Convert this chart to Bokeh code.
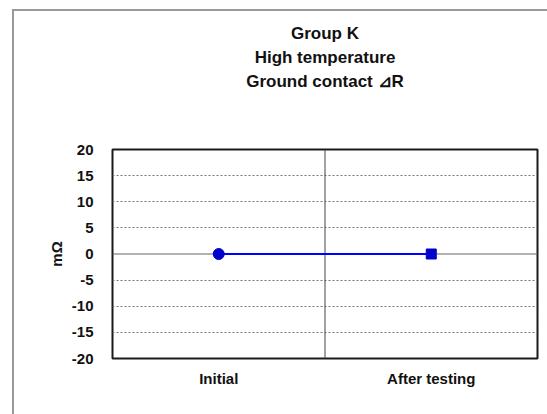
from bokeh.plotting import figure
from bokeh.models import FixedTicker, Span, Title
from bokeh.embed import file_html
from bokeh.resources import INLINE

categories = ["Initial", "After testing"]
values = [0.0, 0.0]
y_ticks = [-20, -15, -10, -5, 0, 5, 10, 15, 20]
y_tick_labels = [str(t) for t in y_ticks]
title_lines = ["Group K", "High temperature", "Ground contact \u22bfR"]

xs = [i + 0.5 for i in range(len(categories))]

p = figure(width=535, height=405, output_backend="svg", toolbar_location=None,
           x_range=(0, 2), y_range=(-20, 20),
           min_border_left=98, min_border_right=12, min_border_bottom=58,
           min_border_top=138,
           margin=(9, 0, 0, 12),
           styles={"border-left": "2px solid #999999", "border-top": "2px solid #999999"})
p.title = None

# spacer between the title block and the frame
p.add_layout(Title(text=" ", text_font_size="17px", standoff=36), "above")
for line in reversed(title_lines):
    p.add_layout(Title(text=line, align="center", text_font="Liberation Sans",
                       text_font_size="17px", text_font_style="bold",
                       text_color="#111111", standoff=3), "above")

p.outline_line_color = "#1a1a1a"
p.outline_line_width = 2
p.background_fill_color = "white"
p.border_fill_color = "white"

p.xgrid.visible = False
p.ygrid.ticker = FixedTicker(ticks=[t for t in y_ticks if t != 0])
p.ygrid.grid_line_color = "#777777"
p.ygrid.grid_line_dash = "2 2"
p.ygrid.grid_line_width = 1

p.add_layout(Span(location=0, dimension="width", line_color="#666666", line_width=1.2, level="underlay"))
p.add_layout(Span(location=1, dimension="height", line_color="#444444", line_width=1, level="underlay"))

p.yaxis.ticker = FixedTicker(ticks=y_ticks)
p.yaxis.major_label_overrides = {t: s for t, s in zip(y_ticks, y_tick_labels)}
p.xaxis.ticker = FixedTicker(ticks=xs)
p.xaxis.major_label_overrides = {x: c for x, c in zip(xs, categories)}
for ax in (p.xaxis, p.yaxis):
    ax.major_tick_line_color = None
    ax.minor_tick_line_color = None
    ax.axis_line_color = None
    ax.major_label_text_font = "Liberation Sans"
    ax.major_label_text_font_style = "bold"
    ax.major_label_text_font_size = "15px"
    ax.major_label_text_color = "#111111"
p.xaxis.major_label_standoff = 5
p.yaxis.major_label_standoff = 13
p.yaxis.axis_label = "m\u03a9"
p.yaxis.axis_label_text_font = "Liberation Sans"
p.yaxis.axis_label_text_font_style = "bold"
p.yaxis.axis_label_text_font_size = "15px"
p.yaxis.axis_label_text_color = "#111111"
p.yaxis.axis_label_standoff = 4

p.line(xs, values, line_color="#0000ff", line_width=2)
p.scatter([xs[0]], [values[0]], marker="circle", size=11, fill_color="#0000cc", line_color="#0000cc")
p.scatter([xs[1]], [values[1]], marker="square", size=10, fill_color="#0000cc", line_color="#0000cc")

open("out.html", "w").write(file_html(p, INLINE))
